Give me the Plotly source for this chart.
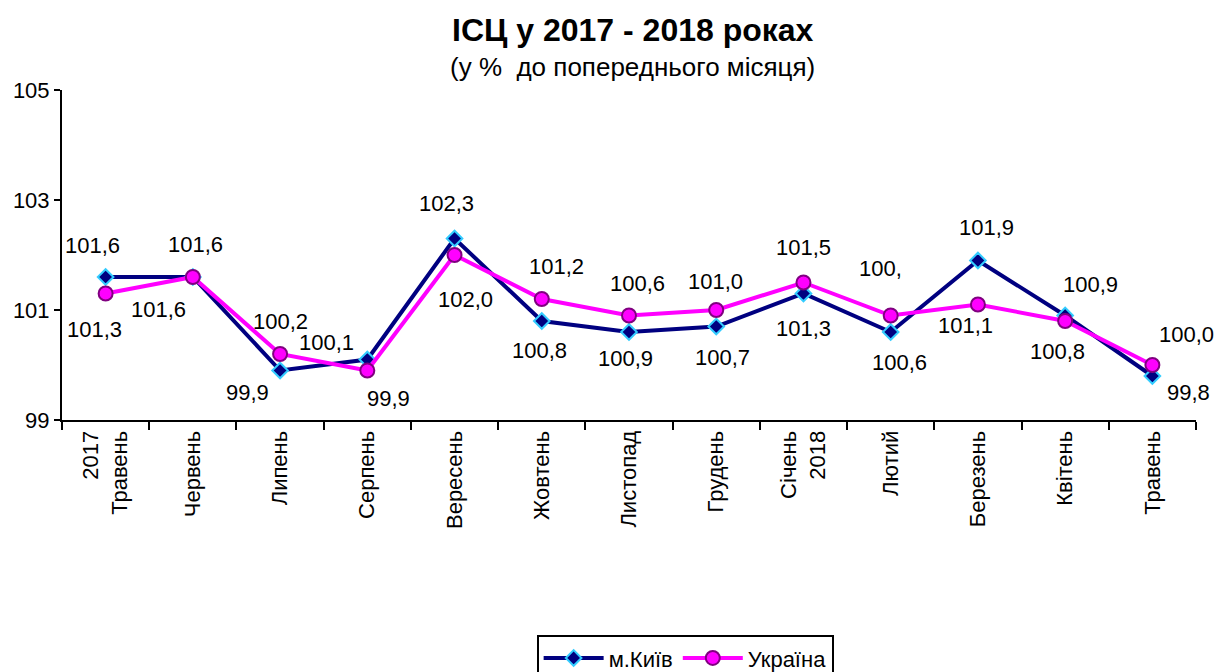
import plotly.graph_objects as go

months = ["2017<br>Травень", "Червень", "Липень", "Серпень", "Вересень", "Жовтень",
          "Листопад", "Грудень", "Січень<br>2018", "Лютий", "Березень", "Квітень", "Травень"]
kyiv = [101.6, 101.6, 99.9, 100.1, 102.3, 100.8, 100.6, 100.7, 101.3, 100.6, 101.9, 100.9, 99.8]
ukraine = [101.3, 101.6, 100.2, 99.9, 102.0, 101.2, 100.9, 101.0, 101.5, 100.9, 101.1, 100.8, 100.0]

# data labels as printed on the original chart
kyiv_labels = ["101,6", "101,6", "99,9", "100,1", "102,3", "100,8", "100,9",
               "100,7", "101,3", "100,6", "101,9", "100,9", "99,8"]
ukraine_labels = ["101,3", "101,6", "100,2", "99,9", "102,0", "101,2", "100,6",
                  "101,0", "101,5", "100,", "101,1", "100,8", "100,0"]

# label offsets in pixels (dx, dy; dy positive = down)
kyiv_off = [(-13, -32), (-34, 32), (-33, 22), (-41, -17), (-8, -35), (-2, 29), (-4, 26),
            (6, 31), (0, 35), (9, 30), (9, -33), (25, -31), (36, 16)]
ukraine_off = [(-11, 36), (3, -33), (0, -33), (21, 28), (11, 44), (15, -33), (8, -32),
               (-1, -29), (0, -35), (-10, -47), (-12, 21), (-8, 30), (34, -31)]

fig = go.Figure()
fig.add_trace(go.Scatter(
    x=months, y=kyiv, name="м.Київ", mode="lines+markers",
    line=dict(color="#000080", width=4),
    marker=dict(symbol="diamond", size=12, color="#000080",
                line=dict(color="#33CCFF", width=2))
))
fig.add_trace(go.Scatter(
    x=months, y=ukraine, name="Україна", mode="lines+markers",
    line=dict(color="#FF00FF", width=4),
    marker=dict(symbol="circle", size=14, color="#FF00FF",
                line=dict(color="#800080", width=2))
))

for vals, labels, offs in [(kyiv, kyiv_labels, kyiv_off), (ukraine, ukraine_labels, ukraine_off)]:
    for m, v, t, (dx, dy) in zip(months, vals, labels, offs):
        fig.add_annotation(x=m, y=v, text=t, showarrow=False,
                           xshift=dx, yshift=-dy,
                           font=dict(size=22, color="black"))

# title and subtitle
fig.add_annotation(xref="paper", yref="paper", x=0.5035, y=1.0, yshift=60,
                   yanchor="middle", text="<b>ІСЦ у 2017 - 2018 роках</b>",
                   showarrow=False, font=dict(size=32, color="black"))
fig.add_annotation(xref="paper", yref="paper", x=0.5035, y=1.0, yshift=23,
                   yanchor="middle", text="(у %  до попереднього місяця)",
                   showarrow=False, font=dict(size=26, color="black"))

# the page body adds an 8px offset, so the figure is a bit smaller than the window
fig.update_layout(
    width=1214, height=664,
    margin=dict(l=54, r=26, t=82, b=252, autoexpand=False),
    paper_bgcolor="white", plot_bgcolor="white",
    font=dict(family="Liberation Sans, Arial, sans-serif", color="black"),
    showlegend=True,
    legend=dict(orientation="h", x=0.5495, xanchor="center", y=-0.652, yanchor="top",
                bordercolor="black", borderwidth=2, font=dict(size=22),
                itemwidth=60, tracegroupgap=0),
    xaxis=dict(type="category", range=[-0.5, 12.5], tickangle=-90, automargin=False,
               tickson="boundaries", ticks="outside", ticklen=8, tickwidth=2,
               tickcolor="black", showline=True, linecolor="black", linewidth=2,
               showgrid=False, tickfont=dict(size=22)),
    yaxis=dict(range=[99, 105], tickvals=[99, 101, 103, 105], ticks="outside",
               automargin=False,
               ticklen=6, tickwidth=2, tickcolor="black", showline=True,
               linecolor="black", linewidth=2, showgrid=False, zeroline=False,
               tickfont=dict(size=22)),
)

fig.write_html("out.html")
